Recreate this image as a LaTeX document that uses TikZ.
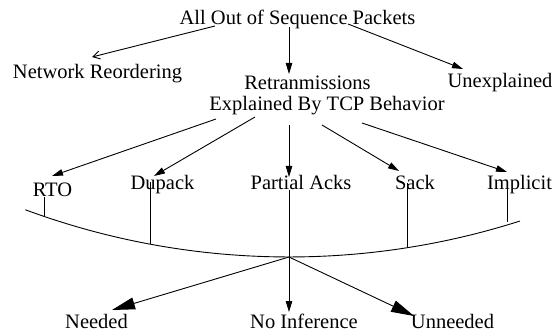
\documentclass[tikz,border=0pt]{standalone}
\usepackage{fontspec}
\setmainfont{Liberation Serif}
\usetikzlibrary{arrows.meta}
\begin{document}
\begin{tikzpicture}[x=1pt,y=1pt,
  lbl/.style={anchor=base,inner sep=0pt,font=\fontsize{20.5}{24}\selectfont},
  ln/.style={line width=0.9pt},
  stick/.style={ln,-{Straight Barb[length=7pt,width=8pt,line width=0.9pt]}},
  tri/.style={ln,-{Triangle[length=11pt,width=6.5pt]}},
  bigtri/.style={ln,-{Triangle[length=23pt,width=12pt]}}]
\useasboundingbox (0,0) rectangle (556,332);
% text
\node[lbl] (title) at (297.5,307) {All Out of Sequence Packets};
\node[lbl] (netre) at (97.5,253) {Network Reordering};
\node[lbl] (unexp) at (500,244) {Unexplained};
\node[lbl] (retr) at (307.5,242.5) {Retranmissions};
\node[lbl] (expl) at (327,221.5) {Explained By TCP Behavior};
\node[lbl] (rto) at (52.5,135) {RTO};
\node[lbl] (dup) at (162.5,142) {Dupack};
\node[lbl] (pa) at (301,142) {Partial Acks};
\node[lbl] (sack) at (415,142) {Sack};
\node[lbl] (impl) at (519.5,142) {Implicit};
\node[lbl] (need) at (96.5,4) {Needed};
\node[lbl] (noinf) at (304,4) {No Inference};
\node[lbl] (unneed) at (452.5,4) {Unneeded};
% connector ends
\coordinate (t1s) at (215,306); \coordinate (t1e) at (92,275);
\coordinate (t2s) at (289,305); \coordinate (t2e) at (289,258);
\coordinate (t3s) at (348,308); \coordinate (t3e) at (463,263);
\coordinate (e1s) at (216,213); \coordinate (e1e) at (52,156);
\coordinate (e2s) at (255,215); \coordinate (e2e) at (154,156);
\coordinate (e3s) at (289,207); \coordinate (e3e) at (289,155);
\coordinate (e4s) at (322,207); \coordinate (e4e) at (399,161);
\coordinate (e5s) at (362,209); \coordinate (e5e) at (507,160);
\coordinate (k1s) at (44,135);  \coordinate (k1e) at (44,116);
\coordinate (k2s) at (150,150); \coordinate (k2e) at (150,88);
\coordinate (k3s) at (289,142); \coordinate (k3e) at (289,75);
\coordinate (k4s) at (407,149); \coordinate (k4e) at (407,84);
\coordinate (k5s) at (507,145); \coordinate (k5e) at (507,110);
\coordinate (arcc) at (289,835);
\coordinate (bot) at (289,75);
\coordinate (b1e) at (112,22);
\coordinate (b2e) at (289,20);
\coordinate (b3e) at (414,16);
% arrows
\draw[stick] (t1s) -- (t1e);
\draw[tri] (t2s) -- (t2e);
\draw[tri] (t3s) -- (t3e);
\draw[tri] (e1s) -- (e1e);
\draw[tri] (e2s) -- (e2e);
\draw[tri] (e3s) -- (e3e);
\draw[tri] (e4s) -- (e4e);
\draw[tri] (e5s) -- (e5e);
\draw[ln] (k1s) -- (k1e);
\draw[ln] (k2s) -- (k2e);
\draw[ln] (k3s) -- (k3e);
\draw[ln] (k4s) -- (k4e);
\draw[ln] (k5s) -- (k5e);
\draw[ln] ([shift={(249.7:760pt)}]arcc) arc[start angle=249.7,end angle=287.7,radius=760pt];
\draw[bigtri] (bot) -- (b1e);
\draw[tri] (bot) -- (b2e);
\draw[bigtri] (bot) -- (b3e);
\end{tikzpicture}
\end{document}
